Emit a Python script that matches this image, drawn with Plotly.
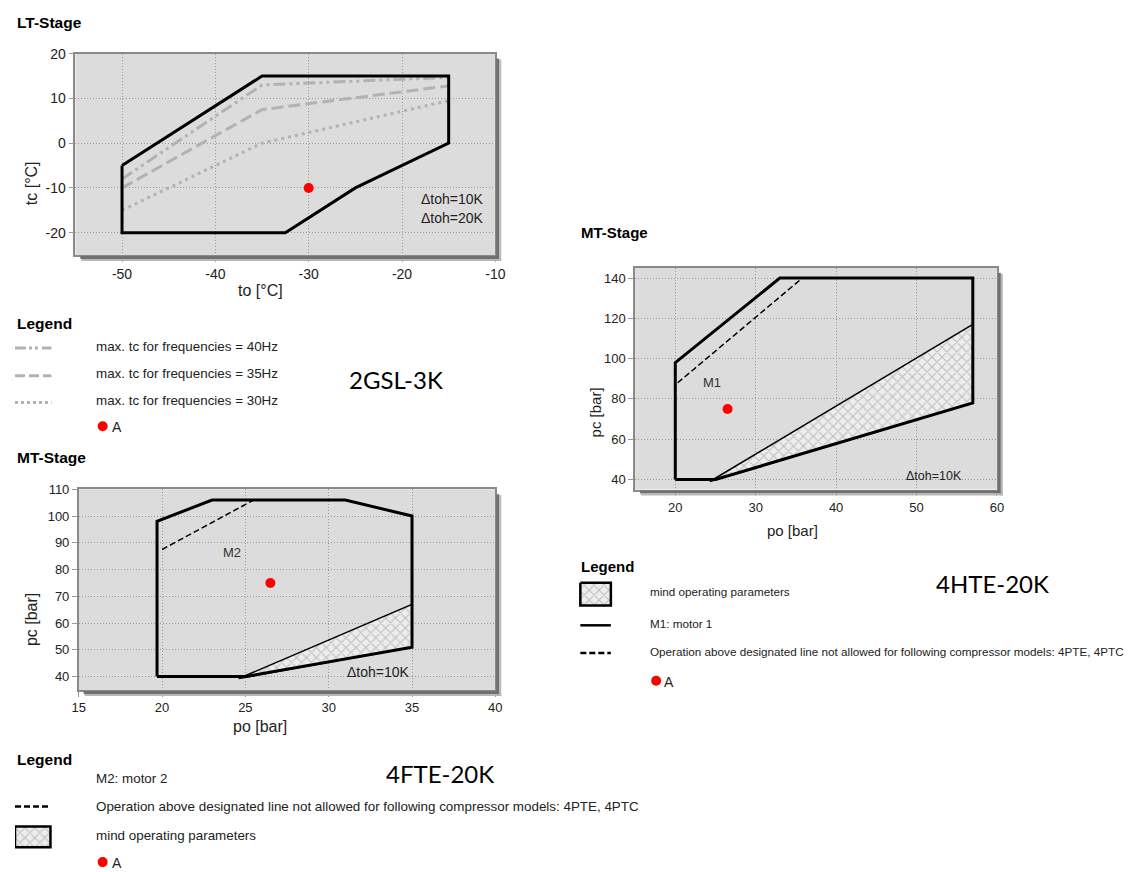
import plotly.graph_objects as go

# target picture size and page compensation
REF_W, REF_H = 1141, 872
OFF = 8                      # page offset of the figure inside the window
W, H = REF_W - 2 * OFF, REF_H - OFF
FONT = "Liberation Sans, Arial, sans-serif"
BIG = "Lato, Open Sans, sans-serif"

# ---------------- LT-Stage (2GSL-3K) ----------------
lt_env_to = [-50, -35, -15, -15, -25, -32.5, -50, -50]
lt_env_tc = [-5, 15, 15, 0, -10, -20, -20, -5]
lt_40hz_to = [-50, -35, -15]
lt_40hz_tc = [-8, 13, 14.7]
lt_35hz_to = [-50, -35, -15]
lt_35hz_tc = [-10, 7.5, 12.8]
lt_30hz_to = [-50, -35, -15]
lt_30hz_tc = [-15, 0, 9.5]
lt_point_to = [-30]
lt_point_tc = [-10]
lt_xticks = [-50, -40, -30, -20, -10]
lt_xticklabels = ["-50", "-40", "-30", "-20", "-10"]
lt_yticks = [-20, -10, 0, 10, 20]
lt_yticklabels = ["-20", "-10", "0", "10", "20"]

# ---------------- MT-Stage (4HTE-20K) ----------------
hte_env_po = [20, 20, 33, 57, 57, 25, 20]
hte_env_pc = [40, 98, 140, 140, 78, 40, 40]
hte_hatch_po = [24.3, 57, 57, 25, 24.3]
hte_hatch_pc = [39, 117, 78, 40, 39]
hte_dash_po = [20.3, 35.8]
hte_dash_pc = [88, 140]
hte_point_po = [26.5]
hte_point_pc = [75]
hte_xticks = [20, 30, 40, 50, 60]
hte_yticks = [40, 60, 80, 100, 120, 140]

# ---------------- MT-Stage (4FTE-20K) ----------------
fte_env_po = [19.7, 19.7, 23, 31, 35, 35, 25, 19.7]
fte_env_pc = [40, 98, 106, 106, 100, 51, 40, 40]
fte_hatch_po = [24.6, 35, 35, 25, 24.6]
fte_hatch_pc = [39.3, 67, 51, 40, 39.3]
fte_dash_po = [20, 25.5]
fte_dash_pc = [87.5, 106]
fte_point_po = [26.5]
fte_point_pc = [75]
fte_xticks = [15, 20, 25, 30, 35, 40]
fte_yticks = [40, 50, 60, 70, 80, 90, 100, 110]

# plot boxes in reference pixels (left, top, right, bottom)
BOX1 = (69.3, 46, 495.7, 249.3)
BOX2 = (637.6, 262.3, 1005, 486)
BOX3 = (72.7, 485.7, 495.7, 688.3)

GRAYLINE = "#b2b2b2"
HATCH = dict(shape="x", fgcolor="#8f8f8f", bgcolor="#ededed", size=7, solidity=0.3)

fig = go.Figure()

# ---- chart 1 traces
fig.add_trace(go.Scatter(x=lt_40hz_to, y=lt_40hz_tc, mode="lines", xaxis="x", yaxis="y",
                         line=dict(color=GRAYLINE, width=3, dash="12px,4px,3px,4px,3px,4px")))
fig.add_trace(go.Scatter(x=lt_35hz_to, y=lt_35hz_tc, mode="lines", xaxis="x", yaxis="y",
                         line=dict(color=GRAYLINE, width=3, dash="12px,5px")))
fig.add_trace(go.Scatter(x=lt_30hz_to, y=lt_30hz_tc, mode="lines", xaxis="x", yaxis="y",
                         line=dict(color=GRAYLINE, width=3, dash="3px,4px")))
fig.add_trace(go.Scatter(x=lt_env_to, y=lt_env_tc, mode="lines", xaxis="x", yaxis="y",
                         line=dict(color="black", width=3)))
fig.add_trace(go.Scatter(x=lt_point_to, y=lt_point_tc, mode="markers", xaxis="x", yaxis="y",
                         marker=dict(color="red", size=10)))

# ---- chart 2 traces
fig.add_trace(go.Scatter(x=hte_hatch_po, y=hte_hatch_pc, mode="lines", fill="toself", xaxis="x2", yaxis="y2",
                         fillpattern=HATCH, fillcolor="#ededed", line=dict(color="black", width=1.5)))
fig.add_trace(go.Scatter(x=hte_dash_po, y=hte_dash_pc, mode="lines", xaxis="x2", yaxis="y2",
                         line=dict(color="black", width=1.5, dash="6px,3px")))
fig.add_trace(go.Scatter(x=hte_env_po, y=hte_env_pc, mode="lines", xaxis="x2", yaxis="y2",
                         line=dict(color="black", width=3)))
fig.add_trace(go.Scatter(x=hte_point_po, y=hte_point_pc, mode="markers", xaxis="x2", yaxis="y2",
                         marker=dict(color="red", size=10)))

# ---- chart 3 traces
fig.add_trace(go.Scatter(x=fte_hatch_po, y=fte_hatch_pc, mode="lines", fill="toself", xaxis="x3", yaxis="y3",
                         fillpattern=HATCH, fillcolor="#ededed", line=dict(color="black", width=1.5)))
fig.add_trace(go.Scatter(x=fte_dash_po, y=fte_dash_pc, mode="lines", xaxis="x3", yaxis="y3",
                         line=dict(color="black", width=1.5, dash="6px,3px")))
fig.add_trace(go.Scatter(x=fte_env_po, y=fte_env_pc, mode="lines", xaxis="x3", yaxis="y3",
                         line=dict(color="black", width=3)))
fig.add_trace(go.Scatter(x=fte_point_po, y=fte_point_pc, mode="markers", xaxis="x3", yaxis="y3",
                         marker=dict(color="red", size=10)))

# ---- legend samples on overlay axis (reference pixel coordinates)
def seg(x0, x1, y, **line):
    fig.add_trace(go.Scatter(x=[x0, x1], y=[y, y], mode="lines", xaxis="x4", yaxis="y4", line=line))

def box(x0, y0, x1, y1):
    fig.add_trace(go.Scatter(x=[x0, x1, x1, x0, x0], y=[y0, y0, y1, y1, y0], mode="lines", fill="toself",
                             xaxis="x4", yaxis="y4", fillpattern=HATCH, fillcolor="#ededed",
                             line=dict(color="black", width=2.5)))

def dot(x, y):
    fig.add_trace(go.Scatter(x=[x], y=[y], mode="markers", xaxis="x4", yaxis="y4",
                             marker=dict(color="red", size=10)))

seg(8, 45, 343, color=GRAYLINE, width=3, dash="11px,3px,3px,3px,3px,4px")
seg(8, 45, 371, color=GRAYLINE, width=3, dash="10px,4px")
seg(8, 45, 398, color=GRAYLINE, width=3, dash="3px,3px")
dot(97, 422)

box(582, 580, 613, 603)
seg(582, 613, 623, color="black", width=2.5)
seg(582, 613, 651, color="black", width=2.5, dash="6px,3px")
dot(659, 679)

seg(8, 42, 806, color="black", width=2.5, dash="6px,3px")
box(8, 826, 44, 847)
dot(97, 862)

# ---- axes
def xdom(b):
    return [(b[0] - OFF) / W, (b[2] - OFF) / W]

def ydom(b):
    return [1 - (b[3] - OFF) / H, 1 - (b[1] - OFF) / H]

def axis_common(size):
    return dict(showgrid=True, gridcolor="#9a9a9a", griddash="1px,2px", gridwidth=1, zeroline=False,
                showline=True, mirror=True, linecolor="#8a8a8a", linewidth=1.5,
                ticks="outside", ticklen=5, tickcolor="#9a9a9a",
                tickfont=dict(family=FONT, size=size, color="#222"), fixedrange=True)

layout = dict(
    width=W, height=H, autosize=False, margin=dict(l=0, r=0, t=0, b=0, pad=0),
    paper_bgcolor="white", plot_bgcolor="rgba(0,0,0,0)", showlegend=False,
    xaxis=dict(domain=xdom(BOX1), anchor="y", range=[-55, -10], tickvals=lt_xticks,
               ticktext=lt_xticklabels, **axis_common(14)),
    yaxis=dict(domain=ydom(BOX1), anchor="x", range=[-25, 20], tickvals=lt_yticks,
               ticktext=lt_yticklabels, **axis_common(14)),
    xaxis2=dict(domain=xdom(BOX2), anchor="y2", range=[15, 60], tickvals=hte_xticks, **axis_common(13)),
    yaxis2=dict(domain=ydom(BOX2), anchor="x2", range=[35, 145], tickvals=hte_yticks, **axis_common(13)),
    xaxis3=dict(domain=xdom(BOX3), anchor="y3", range=[15, 40], tickvals=fte_xticks, **axis_common(13)),
    yaxis3=dict(domain=ydom(BOX3), anchor="x3", range=[35, 110], tickvals=fte_yticks, **axis_common(13)),
    # overlay axis expressed in reference pixel coordinates
    xaxis4=dict(domain=[0, 1], anchor="y4", range=[OFF, OFF + W], visible=False, fixedrange=True),
    yaxis4=dict(domain=[0, 1], anchor="x4", range=[OFF + H, OFF], visible=False, fixedrange=True),
)
fig.update_layout(**layout)

# ---- shapes: plot backgrounds + shadows
shapes = []
for xr, yr in (("x", "y"), ("x2", "y2"), ("x3", "y3")):
    shapes.append(dict(type="rect", xref=f"{xr} domain", yref=f"{yr} domain", x0=0, x1=1, y0=0, y1=1,
                       fillcolor="#dcdcdc", line=dict(width=0), layer="below"))
for (L, T, R, B) in (BOX1, BOX2, BOX3):
    shapes.append(dict(type="rect", xref="x4", yref="y4", x0=R + 1, x1=R + 4, y0=T + 5, y1=B + 4,
                       fillcolor="#707070", line=dict(width=0)))
    shapes.append(dict(type="rect", xref="x4", yref="y4", x0=L + 5, x1=R + 4, y0=B + 1, y1=B + 4,
                       fillcolor="#707070", line=dict(width=0)))
    shapes.append(dict(type="rect", xref="x4", yref="y4", x0=R + 4, x1=R + 6, y0=T + 6, y1=B + 6,
                       fillcolor="#b8b8b8", line=dict(width=0)))
    shapes.append(dict(type="rect", xref="x4", yref="y4", x0=L + 6, x1=R + 6, y0=B + 4, y1=B + 6,
                       fillcolor="#b8b8b8", line=dict(width=0)))
fig.update_layout(shapes=shapes)

# ---- annotations
anns = []

def ann(text, x, y, size=12, bold=False, xanchor="left", family=FONT, color="#222", angle=0):
    anns.append(dict(text=f"<b>{text}</b>" if bold else text, x=x, y=y, xref="x4", yref="y4",
                     showarrow=False, xanchor=xanchor, yanchor="middle", textangle=angle,
                     font=dict(size=size, family=family, color=color)))

OP = "Operation above designated line not allowed for following compressor models: 4PTE, 4PTC"
LG = 13.4   # legend text size
LG2 = 11.7  # right legend text size

# chart 1
ann("LT-Stage", 8, 15, 15.5, bold=True, color="black")
ann("to [°C]", 257, 285, 16, xanchor="center")
ann("tc [°C]", 25, 177, 16, xanchor="center", angle=-90)
ann("Δtoh=10K", 418, 193, 14)
ann("Δtoh=20K", 418, 212, 14)
ann("Legend", 8, 318, 15.5, bold=True, color="black")
ann("max. tc for frequencies = 40Hz", 88, 342, LG)
ann("max. tc for frequencies = 35Hz", 88, 369, LG)
ann("max. tc for frequencies = 30Hz", 88, 396, LG)
ann("A", 104, 423, 14)
ann("2GSL-3K", 345, 375, 24, family=BIG, color="black")

# chart 2
ann("MT-Stage", 581, 227, 15, bold=True, color="black")
ann("po [bar]", 797, 527, 15, xanchor="center")
ann("pc [bar]", 597, 408, 15, xanchor="center", angle=-90)
ann("M1", 716, 378, 13, xanchor="center", color="#333")
ann("Δtoh=10K", 941, 472, 12.5, xanchor="center")
ann("Legend", 581, 564, 15, bold=True, color="black")
ann("mind operating parameters", 651, 589, LG2)
ann("M1: motor 1", 651, 621, LG2)
ann(OP, 651, 649, LG2)
ann("A", 665, 680, 14)
ann("4HTE-20K", 941, 581, 24, family=BIG, color="black")

# chart 3
ann("MT-Stage", 8, 454, 15.5, bold=True, color="black")
ann("po [bar]", 257, 725, 16, xanchor="center")
ann("pc [bar]", 25, 617, 16, xanchor="center", angle=-90)
ann("M2", 228, 550, 13, xanchor="center", color="#333")
ann("Δtoh=10K", 377, 670, 14, xanchor="center")
ann("Legend", 8, 758, 15.5, bold=True, color="black")
ann("M2: motor 2", 88, 778, LG)
ann(OP, 88, 806, LG)
ann("mind operating parameters", 88, 835, LG)
ann("A", 104, 863, 14)
ann("4FTE-20K", 383, 773, 24, family=BIG, color="black")

fig.update_layout(annotations=anns)

fig.write_html("out.html", config={"displayModeBar": False})
